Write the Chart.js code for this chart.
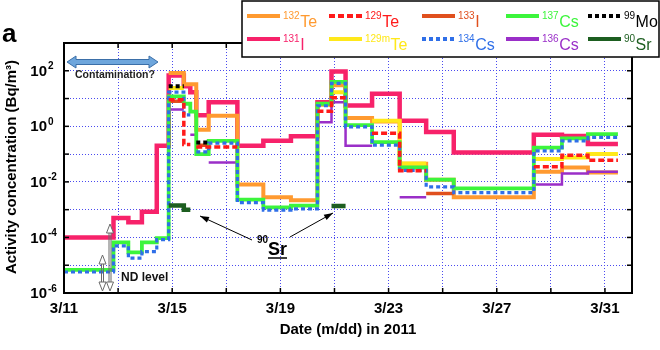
<!DOCTYPE html>
<html><head><meta charset="utf-8">
<script src="https://cdn.jsdelivr.net/npm/chart.js@4"></script>
<style>html,body{margin:0;padding:0;background:#fff}</style>
</head><body>
<canvas id="c" width="660" height="350"></canvas>
<script>
// ---- DATA (days since 3/11 00:00; step intervals between consecutive bounds) ----
const stepBounds = [0, 1.83, 2.38, 2.88, 3.43, 3.87, 4.43, 4.67, 4.89, 5.35, 6.41, 7.37, 8.39, 9.37, 9.89, 10.41, 11.39, 12.41, 13.39, 14.41, 17.37, 18.41, 19.37, 20.48];
const N = null;
const i131   = [1e-4, 5e-4, 3.5e-4, 8.5e-4, 0.2, 68, 28, 17, 2.5, 7.4, 0.2, 0.3, 0.44, 7.4, 95, 5.6, 15, 1.6, 0.62, 0.115, 0.5, 0.45, 0.23];
const cs137  = [6.8e-6, 6.6e-5, 2.9e-5, 6.6e-5, 9.5e-5, 12, 6.5, 3.4, 0.1, 0.3, 2.3e-3, 1.2e-3, 1.4e-3, 6.5, 40, 1.1, 0.27, 0.033, 0.012, 5.8e-3, 0.17, 0.37, 0.52];
const cs134  = [5.7e-6, 5e-5, 1.8e-5, 3.1e-5, 8.3e-5, 17, 2.6, N, 0.12, 0.25, 1.8e-3, 9.6e-4, 1.07e-3, 5.5, 35, 0.95, 0.21, 0.026, 6.6e-3, 4.1e-3, 0.13, 0.3, 0.4];
const te132  = [N, N, N, N, N, 83, 33, 33, 0.76, 2.4, 8.1e-3, 2.8e-3, 2.2e-3, 6, 30, 2, 1.5, 0.045, 0.012, 2.8e-3, 0.023, 0.033, 0.022];
const te129  = [N, N, N, N, N, 9, 0.22, N, 0.18, 0.18, N, N, N, 3.5, 10.7, N, 0.56, 0.025, N, N, 0.035, 0.091, 0.06];
const te129m = [N, N, N, N, N, 24, N, N, N, N, N, N, N, N, 17, N, 1.6, 0.046, N, N, 0.066, 0.076, 0.1];
const i133   = [N, N, N, N, N, 8, N, N, 0.21, N, N, N, N, N, N, N, N, N, 3.8e-3, N, N, N, N];
const cs136  = [N, N, N, N, N, 4, N, 0.5, N, 0.05, N, N, N, 1.4, 7.4, 0.2, N, 2.8e-3, N, N, 8.1e-3, 0.02, 0.023];
const mo99   = [N, N, N, N, N, 28, N, N, 0.26, N, N, N, N, N, N, N, N, N, N, N, N, N, N];
const sr90   = [N, N, N, N, N, 1.4e-3, 1.0e-3, N, N, N, N, N, N, N, 1.35e-3, N, N, N, N, N, N, N, N];

const xTickDays   = [0, 4, 8, 12, 16, 20];
const xTickLabels = ['3/11', '3/15', '3/19', '3/23', '3/27', '3/31'];
const yDecades    = [1e-6, 1e-5, 1e-4, 1e-3, 1e-2, 1e-1, 1, 10, 100, 1000];
const yLabelExps  = [-6, -4, -2, 0, 2];

// ---- STYLES ----
const FONT = "'Liberation Sans', Arial, Helvetica, sans-serif";
const styles = { // first listed = drawn on top
  sr90:   {vals: sr90,   color: '#1d5e20', width: 4.5, dash: []},
  mo99:   {vals: mo99,   color: '#000000', width: 4,   dash: [4, 3]},
  te129:  {vals: te129,  color: '#ff1a1a', width: 3.5, dash: [6, 3]},
  cs134:  {vals: cs134,  color: '#2f6fe8', width: 3.2, dash: [4, 3]},
  cs137:  {vals: cs137,  color: '#3cf53c', width: 3.8, dash: []},
  cs136:  {vals: cs136,  color: '#9a2fc8', width: 2.5, dash: []},
  i133:   {vals: i133,   color: '#e0501e', width: 3.5, dash: []},
  te129m: {vals: te129m, color: '#ffe81a', width: 4,   dash: []},
  te132:  {vals: te132,  color: '#ff9a30', width: 4,   dash: []},
  i131:   {vals: i131,   color: '#f7226a', width: 4.5, dash: []}
};
const legendItems = [
  {key: 'te132', mass: '132', el: 'Te', col: 0, row: 0},
  {key: 'te129', mass: '129', el: 'Te', col: 1, row: 0},
  {key: 'i133',  mass: '133', el: 'I',  col: 2, row: 0},
  {key: 'cs137', mass: '137', el: 'Cs', col: 3, row: 0},
  {key: 'mo99',  mass: '99',  el: 'Mo', col: 4, row: 0},
  {key: 'i131',  mass: '131', el: 'I',  col: 0, row: 1},
  {key: 'te129m',mass: '129m',el: 'Te', col: 1, row: 1},
  {key: 'cs134', mass: '134', el: 'Cs', col: 2, row: 1},
  {key: 'cs136', mass: '136', el: 'Cs', col: 3, row: 1},
  {key: 'sr90',  mass: '90',  el: 'Sr', col: 4, row: 1}
];

function stepPoints(vals) {
  const pts = [];
  for (let i = 0; i < vals.length; i++) {
    const v = vals[i];
    if (v === null) { pts.push({x: (stepBounds[i] + stepBounds[i + 1]) / 2, y: null}); continue; }
    pts.push({x: stepBounds[i], y: v}, {x: stepBounds[i + 1], y: v});
  }
  return pts;
}

function seg(ctx, x1, y1, x2, y2) { ctx.beginPath(); ctx.moveTo(x1, y1); ctx.lineTo(x2, y2); ctx.stroke(); }
function filledHead(ctx, x1, y1, x2, y2, len, w) {
  const ang = Math.atan2(y2 - y1, x2 - x1);
  ctx.beginPath();
  ctx.moveTo(x2, y2);
  ctx.lineTo(x2 - len * Math.cos(ang) + w / 2 * Math.sin(ang), y2 - len * Math.sin(ang) - w / 2 * Math.cos(ang));
  ctx.lineTo(x2 - len * Math.cos(ang) - w / 2 * Math.sin(ang), y2 - len * Math.sin(ang) + w / 2 * Math.cos(ang));
  ctx.closePath(); ctx.fill();
}
function ndArrow(ctx, x, yTop, yBot) {
  ctx.save();
  ctx.strokeStyle = '#6a6a6a'; ctx.fillStyle = '#ffffff'; ctx.lineWidth = 1;
  seg(ctx, x - 1, yTop + 8, x - 1, yBot - 8);
  seg(ctx, x + 1, yTop + 8, x + 1, yBot - 8);
  ctx.beginPath(); ctx.moveTo(x, yTop); ctx.lineTo(x - 3.5, yTop + 9); ctx.lineTo(x + 3.5, yTop + 9); ctx.closePath(); ctx.fill(); ctx.stroke();
  ctx.beginPath(); ctx.moveTo(x, yBot); ctx.lineTo(x - 3.5, yBot - 9); ctx.lineTo(x + 3.5, yBot - 9); ctx.closePath(); ctx.fill(); ctx.stroke();
  ctx.restore();
}

const decor = {
  id: 'decor',
  afterDraw(chart) {
    const {ctx, chartArea: a, scales: {x, y}} = chart;
    ctx.save();
    ctx.setLineDash([]);
    ctx.strokeStyle = '#000'; ctx.lineWidth = 2;
    ctx.strokeRect(a.left, a.top, a.right - a.left, a.bottom - a.top);
    ctx.lineWidth = 1.5;
    yDecades.forEach(v => { const py = y.getPixelForValue(v); seg(ctx, a.left, py, a.left + 5, py); seg(ctx, a.right - 5, py, a.right, py); });
    x.ticks.forEach(t => { const px = x.getPixelForValue(t.value); seg(ctx, px, a.bottom, px, a.bottom - 5); seg(ctx, px, a.top, px, a.top + 5); });

    ctx.fillStyle = '#000';
    yLabelExps.forEach(e => {
      const py = y.getPixelForValue(Math.pow(10, e));
      ctx.font = 'bold 15px ' + FONT; ctx.textAlign = 'right'; ctx.textBaseline = 'middle';
      ctx.fillText('10', 47, py + 1);
      ctx.font = 'bold 10px ' + FONT; ctx.textAlign = 'left'; ctx.textBaseline = 'alphabetic';
      ctx.fillText(e < 0 ? '-' + (-e) : String(e), 48, py - 1.5);
    });

    ctx.font = 'bold 15px ' + FONT; ctx.textAlign = 'center'; ctx.textBaseline = 'alphabetic';
    ctx.fillText('Date (m/dd) in 2011', 348, 334);
    ctx.save();
    ctx.translate(12, 167); ctx.rotate(-Math.PI / 2);
    ctx.textBaseline = 'middle';
    ctx.fillText('Activity concentration (Bq/m³)', 0, 0);
    ctx.restore();

    ctx.font = 'bold 26px ' + FONT; ctx.textAlign = 'left'; ctx.textBaseline = 'alphabetic';
    ctx.fillText('a', 2, 42);

    ctx.save();
    const ax1 = 67, ax2 = 158, ay = 62;
    ctx.beginPath();
    ctx.moveTo(ax1, ay);
    ctx.lineTo(ax1 + 9, ay - 6); ctx.lineTo(ax1 + 9, ay - 2.5);
    ctx.lineTo(ax2 - 9, ay - 2.5); ctx.lineTo(ax2 - 9, ay - 6);
    ctx.lineTo(ax2, ay);
    ctx.lineTo(ax2 - 9, ay + 6); ctx.lineTo(ax2 - 9, ay + 2.5);
    ctx.lineTo(ax1 + 9, ay + 2.5); ctx.lineTo(ax1 + 9, ay + 6);
    ctx.closePath();
    ctx.fillStyle = '#6ea6dc'; ctx.fill();
    ctx.strokeStyle = '#3b6fa8'; ctx.lineWidth = 1; ctx.stroke();
    ctx.restore();
    ctx.fillStyle = '#222';
    ctx.font = 'bold 10.5px ' + FONT; ctx.textAlign = 'left'; ctx.textBaseline = 'middle';
    ctx.fillText('Contamination?', 75, 75);

    ndArrow(ctx, 102.5, 255, 291);
    ndArrow(ctx, 110, 224, 291);
    ctx.fillStyle = '#111';
    ctx.font = 'bold 12px ' + FONT; ctx.textBaseline = 'alphabetic';
    ctx.fillText('ND level', 121, 281);

    ctx.fillStyle = '#000'; ctx.strokeStyle = '#000'; ctx.lineWidth = 1;
    ctx.font = 'bold 10px ' + FONT; ctx.fillText('90', 257, 243);
    ctx.font = 'bold 18px ' + FONT; ctx.fillText('Sr', 268, 255);
    ctx.lineWidth = 1.5; seg(ctx, 268, 258, 287, 258);
    ctx.lineWidth = 1;
    seg(ctx, 252, 240, 200, 216); filledHead(ctx, 252, 240, 200, 216, 9, 6);
    seg(ctx, 290, 237, 333, 213); filledHead(ctx, 290, 237, 333, 213, 9, 6);

    ctx.fillStyle = '#fff'; ctx.fillRect(242, 1, 417, 56);
    ctx.strokeStyle = '#000'; ctx.lineWidth = 1.5; ctx.strokeRect(242, 1, 417, 56);
    const colX = [247, 329, 422, 506, 588];
    const rowY = [16, 39];
    const rowBase = [27, 50];
    legendItems.forEach(it => {
      const s = styles[it.key];
      const x0 = colX[it.col], yy = rowY[it.row];
      ctx.save();
      ctx.strokeStyle = s.color; ctx.lineWidth = 4; ctx.lineCap = 'butt';
      ctx.setLineDash(s.dash);
      seg(ctx, x0, yy, x0 + 33, yy);
      ctx.restore();
      ctx.fillStyle = s.color; ctx.textAlign = 'left'; ctx.textBaseline = 'alphabetic';
      ctx.font = '10px ' + FONT;
      const tx = x0 + 36;
      ctx.fillText(it.mass, tx, rowBase[it.row] - 8);
      const w = ctx.measureText(it.mass).width;
      ctx.font = '16px ' + FONT;
      ctx.fillText(it.el, tx + w + 0.5, rowBase[it.row]);
    });
    ctx.restore();
  }
};

const order = ['sr90', 'mo99', 'te129', 'cs134', 'cs137', 'cs136', 'i133', 'te129m', 'te132', 'i131'];
new Chart(document.getElementById('c'), {
  type: 'line',
  data: {
    datasets: order.map(k => ({
      label: k,
      data: stepPoints(styles[k].vals),
      borderColor: styles[k].color,
      backgroundColor: styles[k].color,
      borderWidth: styles[k].width,
      borderDash: styles[k].dash,
      borderCapStyle: 'butt',
      borderJoinStyle: 'miter',
      pointRadius: 0, pointHoverRadius: 0,
      spanGaps: false, tension: 0, fill: false
    }))
  },
  options: {
    responsive: false, animation: false,
    layout: {padding: {left: 0, right: 28, top: 43, bottom: 0}},
    plugins: {legend: {display: false}, tooltip: {enabled: false}, title: {display: false}},
    scales: {
      x: {
        type: 'linear', min: 0, max: 21,
        afterFit(s) { s.height = 57; },
        ticks: {
          stepSize: 2, autoSkip: false, maxRotation: 0, minRotation: 0, padding: 7, color: '#000',
          font: {family: FONT, size: 15, weight: 'bold'},
          callback(v) { const i = xTickDays.indexOf(v); return i >= 0 ? xTickLabels[i] : ''; }
        },
        grid: {color: '#4a4af0', lineWidth: 1, drawTicks: false},
        border: {display: false, dash: [1, 2]}
      },
      y: {
        type: 'logarithmic', min: 1e-6, max: 1e3,
        afterFit(s) { s.width = 64; },
        afterBuildTicks(s) { s.ticks = yDecades.map(v => ({value: v})); },
        ticks: {display: false},
        grid: {color: '#4a4af0', lineWidth: 1, drawTicks: false},
        border: {display: false, dash: [1, 2]}
      }
    }
  },
  plugins: [decor]
});
</script>
</body></html>
